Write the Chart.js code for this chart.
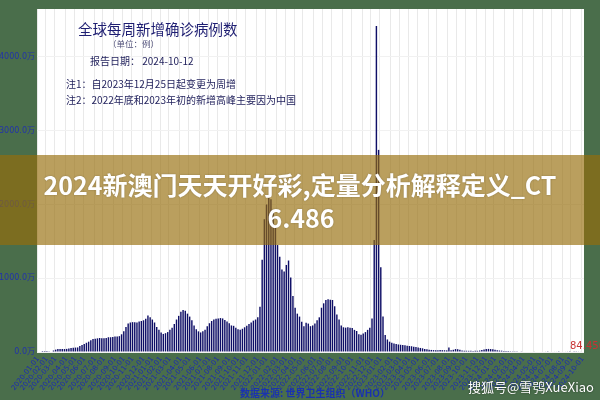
<!DOCTYPE html>
<html lang="zh">
<head>
  <meta charset="UTF-8">
  <title>全球每周新增确诊病例数</title>
  <script src="https://cdn.jsdelivr.net/npm/chart.js"></script>
  <style>
    html, body { margin: 0; padding: 0; background: #4a6e4b; }
    #chart { display: block; }
  </style>
</head>
<body>
  <canvas id="chart" width="600" height="400"></canvas>
  <script>
    // weekly new cases, unit: 万 (10k), first week starts 2020-01-06
    const startWeek = '2020-01-06';
    const weeklyCases = [
      0, 0, 0.2, 0.5, 1, 2, 8, 20, 32, 40,
      42, 42, 40, 42, 46, 55, 58, 60, 62, 80,
      95, 110, 125, 140, 160, 175, 180, 185, 190, 185,
      185, 190, 200, 200, 205, 210, 210, 215, 240, 280,
      340, 385, 400, 405, 405, 400, 415, 420, 430, 450,
      495, 470, 440, 400, 340, 300, 265, 245, 255, 270,
      300, 330, 380, 440, 490, 545, 570, 560, 520, 480,
      430, 360, 310, 280, 265, 280, 300, 350, 390, 420,
      440, 450, 455, 460, 455, 435, 415, 390, 360, 355,
      330, 310, 300, 315, 335, 355, 380, 400, 425, 440,
      470, 615, 1250, 1800, 2000, 2090, 2070, 1930, 1700, 1450,
      1290, 1120, 1090, 1180, 1240, 1010, 760, 600, 520, 480,
      410, 350, 395, 385, 350, 360, 385, 430, 470, 600,
      660, 705, 715, 710, 705, 620, 510, 440, 360, 335,
      330, 335, 330, 325, 300, 285, 240, 235, 250, 270,
      300, 330, 455, 1520, 4420, 2740, 1150, 480, 230, 170,
      140, 127, 115, 108, 102, 98, 95, 90, 85, 81,
      78, 72, 68, 60, 55, 50, 42, 38, 32, 28,
      26, 25, 24, 26, 25, 24, 22, 62, 25, 30,
      40, 38, 32, 22, 18, 17, 16, 17, 15, 18,
      16, 20, 28, 35, 40, 42, 40, 38, 30, 24,
      20, 18, 15, 14, 12, 11, 10, 9, 10, 8,
      9, 7, 8, 7, 6, 7, 8, 7, 6, 6,
      7, 8, 9, 8, 7, 6, 6, 5, 6, 7,
      6, 5, 5, 6, 5, 4, 5, 6, 8
    ];
    const yTicks = [0, 1000, 2000, 3000, 4000];
    const yMax = 4650;
    const lastLabel = '84.4566';

    const titleLines = [
      { text: '全球每周新增确诊病例数', x: 78, y: 29, font: '14.5px', color: '#1e1e72' },
      { text: '（单位：例）', x: 108, y: 44, font: '8.5px', color: '#50507a' },
      { text: '报告日期： 2024-10-12', x: 90, y: 61, font: '10px', color: '#1e1e5a' },
      { text: '注1：自2023年12月25日起变更为周增', x: 66, y: 84, font: '10px', color: '#1e1e5a' },
      { text: '注2：2022年底和2023年初的新增高峰主要因为中国', x: 66, y: 100, font: '10px', color: '#1e1e5a' }
    ];
    const bannerLines = ['2024新澳门天天开好彩,定量分析解释定义_CT', '6.486'];
    const sourceText = '数据来源: 世界卫生组织（WHO）';
    const watermark = '搜狐号@雪鸮XueXiao';

    // week start dates for the categories
    const weekLabels = [];
    const d0 = new Date(startWeek + 'T00:00:00Z');
    for (let i = 0; i < weeklyCases.length; i++) {
      const d = new Date(d0.getTime() + i * 7 * 86400000);
      weekLabels.push(d.toISOString().slice(0, 10));
    }
    // show one label per month
    function monthTick(i) {
      const cur = weekLabels[i].slice(0, 7);
      if (i > 0 && weekLabels[i - 1].slice(0, 7) === cur) return '';
      return cur + '-01';
    }

    const CJK = "'Noto Sans CJK SC', 'DejaVu Sans', sans-serif";

    const decor = {
      id: 'decor',
      beforeDraw(chart) {
        const ctx = chart.ctx, a = chart.chartArea;
        ctx.save();
        ctx.fillStyle = '#4a6e4b';
        ctx.fillRect(0, 0, chart.width, chart.height);
        ctx.fillStyle = '#ffffff';
        ctx.fillRect(a.left, a.top, a.right - a.left, a.bottom - a.top);
        ctx.restore();
      },
      afterDraw(chart) {
        const ctx = chart.ctx, a = chart.chartArea;
        ctx.save();
        ctx.textBaseline = 'middle';
        ctx.textAlign = 'left';
        titleLines.forEach(t => {
          ctx.font = t.font + ' ' + CJK;
          ctx.fillStyle = t.color;
          ctx.fillText(t.text, t.x, t.y);
        });

        // last value label
        ctx.font = "10px 'DejaVu Sans', sans-serif";
        ctx.fillStyle = '#c83232';
        ctx.fillText(lastLabel, a.right - 14, a.bottom - 6);

        // data source
        ctx.font = 'bold 10px ' + CJK;
        ctx.fillStyle = '#1a32b0';
        ctx.fillText(sourceText, 240, 393);

        // banner
        ctx.fillStyle = 'rgba(150, 110, 10, 0.66)';
        ctx.fillRect(0, 155, chart.width, 90);
        ctx.textAlign = 'center';
        ctx.font = 'bold 25px ' + CJK;
        ctx.fillStyle = '#ffffff';
        ctx.shadowColor = 'rgba(0,0,0,0.25)';
        ctx.shadowBlur = 2;
        ctx.fillText(bannerLines[0], 300, 185);
        ctx.fillText(bannerLines[1], 301, 218);

        // watermark
        ctx.textAlign = 'left';
        ctx.font = '13px ' + CJK;
        ctx.shadowColor = 'rgba(0,0,0,0.5)';
        ctx.fillText(watermark, 468, 387);
        ctx.restore();
      }
    };

    new Chart(document.getElementById('chart'), {
      type: 'bar',
      data: {
        labels: weekLabels,
        datasets: [{
          data: weeklyCases,
          backgroundColor: '#0e0e66',
          barPercentage: 0.65,
          categoryPercentage: 1.0
        }]
      },
      options: {
        responsive: false,
        animation: false,
        devicePixelRatio: 1,
        layout: { padding: { top: 9, right: 16, left: 0, bottom: 0 } },
        plugins: { legend: { display: false }, tooltip: { enabled: false } },
        scales: {
          x: {
            afterFit: s => { s.height = 48; },
            border: { display: false },
            grid: {
              drawTicks: false,
              color: c => (c.tick && c.tick.label) ? '#e9e9e9' : 'rgba(0,0,0,0)'
            },
            ticks: {
              autoSkip: false,
              minRotation: 52,
              maxRotation: 52,
              padding: 3,
              color: '#1a2ab4',
              font: { size: 7, family: "'DejaVu Sans', sans-serif" },
              callback: (v, i) => monthTick(i)
            }
          },
          y: {
            min: 0,
            max: yMax,
            afterFit: s => { s.width = 37; },
            afterBuildTicks: s => { s.ticks = yTicks.map(v => ({ value: v })); },
            border: { display: false },
            grid: { drawTicks: false, color: '#f1f1f1' },
            ticks: {
              padding: 2,
              color: '#2233aa',
              font: { size: 8, family: "'DejaVu Sans', 'Noto Sans CJK SC', sans-serif" },
              callback: v => v.toFixed(1) + '万'
            }
          }
        }
      },
      plugins: [decor]
    });
  </script>
</body>
</html>
